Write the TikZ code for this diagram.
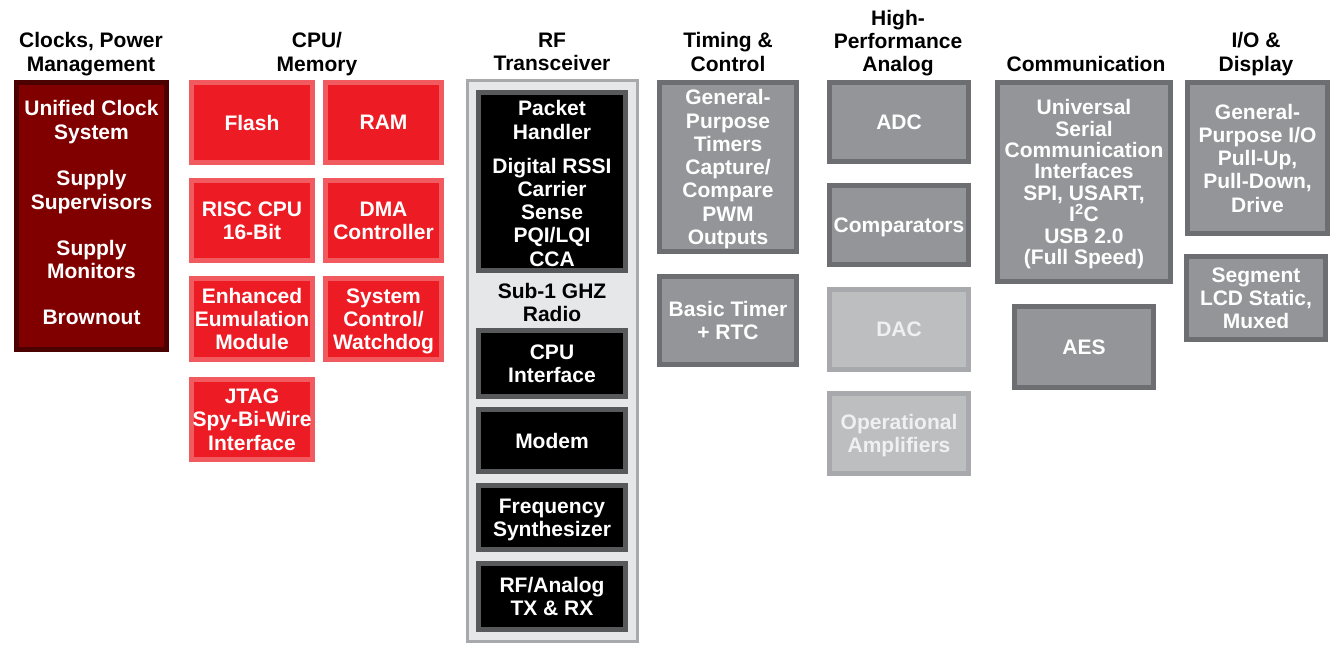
\documentclass[tikz,border=0pt]{standalone}
\usepackage{fontspec}
\setmainfont{Liberation Sans}
\usetikzlibrary{positioning}

\definecolor{clkfill}{HTML}{800000}
\definecolor{clkline}{HTML}{4D0000}
\definecolor{cpufill}{HTML}{ED1C24}
\definecolor{cpuline}{HTML}{F15A5F}
\definecolor{rffill}{HTML}{E6E7E8}
\definecolor{rfline}{HTML}{A7A9AC}
\definecolor{blkline}{HTML}{58595B}
\definecolor{perfill}{HTML}{939598}
\definecolor{perline}{HTML}{6D6E71}
\definecolor{ltfill}{HTML}{BCBEC0}
\definecolor{ltline}{HTML}{A7A9AC}

\begin{document}
\begin{tikzpicture}[
      x=1pt, y=-1pt,
      every node/.style={
          inner sep=0pt,
          outer sep=0pt,
          align=center,
          text depth=0pt,
          font=\fontsize{21}{23.3}\selectfont\bfseries
      },
      title/.style={text=black},          % column headings
      blk/.style={
          rectangle,
          line width=5pt,
          text=white
      },
      clkbox/.style={blk, draw=clkline, fill=clkfill},
      cpubox/.style={blk, draw=cpuline, fill=cpufill},
      rfbox/.style={rectangle, line width=3pt, draw=rfline, fill=rffill},
      rfblk/.style={blk, draw=blkline, fill=black},
      perbox/.style={blk, draw=perline, fill=perfill},
      ltbox/.style={blk, draw=ltline, fill=ltfill, text=white!94!black},
      lbl/.style={text=white}
  ]
      \useasboundingbox (0,0) rectangle (1339,651);

      % Column headings
      \node (tclk) [title] at (91,52) {Clocks, Power\\Management};
      \node (tcpu) [title] at (317,52) {CPU/\\Memory};
      \node (trf) [title] at (552,52) {RF\\Transceiver};
      \node (ttim) [title] at (728,52) {Timing \&\\Control};
      \node (tana) [title] at (898,41) {High-\\Performance\\Analog};
      \node (tcom) [title] at (1086,64) {Communication};
      \node (tio) [title] at (1256,52) {I/O \&\\Display};

      % Clocks, power management
      \node (clocks) [clkbox, minimum width=150pt, minimum height=267pt] at (91.5,216) {};
      \node (ucs) [lbl] at (91.5,120) {Unified Clock\\System};
      \node (svs) [lbl] at (91.5,190) {Supply\\Supervisors};
      \node (svm) [lbl] at (91.5,259.5) {Supply\\Monitors};
      \node (bor) [lbl] at (91.5,317) {Brownout};

      % CPU / memory
      \node (flash) [cpubox, minimum width=121pt, minimum height=80pt] at (252,122.5) {Flash};
      \node (ram) [cpubox, minimum width=116pt, minimum height=80pt] at (383.5,122.5) {RAM};
      \node (risc) [cpubox, minimum width=121pt, minimum height=80pt] at (252,220.5) {RISC CPU\\16-Bit};
      \node (dma) [cpubox, minimum width=116pt, minimum height=80pt] at (383.5,220.5) {DMA\\Controller};
      \node (eem) [cpubox, minimum width=121pt, minimum height=81pt] at (252,319) {Enhanced\\Eumulation\\Module};
      \node (sysctl) [cpubox, minimum width=116pt, minimum height=81pt] at (383.5,319) {System\\Control/\\Watchdog};
      \node (jtag) [cpubox, minimum width=121pt, minimum height=80pt] at (252,419.5) {JTAG\\Spy-Bi-Wire\\Interface};

      % RF transceiver
      \node (rf) [rfbox, minimum width=170pt, minimum height=561pt] at (552.5,361) {};
      \node (pkt) [rfblk, minimum width=147pt, minimum height=178pt] at (552,181.5) {};
      \node (pkth) [lbl] at (552,120) {Packet\\Handler};
      \node (rssi) [lbl] at (552,212) {Digital RSSI\\Carrier\\Sense\\PQI/LQI\\CCA};
      \node (radio) [text=black] at (552,302.5) {Sub-1 GHZ\\Radio};
      \node (cpuif) [rfblk, minimum width=147pt, minimum height=66pt] at (552,363.5) {CPU\\Interface};
      \node (modem) [rfblk, minimum width=147pt, minimum height=62pt] at (552,440.5) {Modem};
      \node (synth) [rfblk, minimum width=147pt, minimum height=64pt] at (552,517.5) {Frequency\\Synthesizer};
      \node (rfana) [rfblk, minimum width=147pt, minimum height=66pt] at (552,596.5) {RF/Analog\\TX \& RX};

      % Timing & control
      \node (timers) [perbox, minimum width=137pt, minimum height=169pt] at (728,167) {General-\\Purpose\\Timers\\Capture/\\Compare\\PWM\\Outputs};
      \node (btimer) [perbox, minimum width=137pt, minimum height=88pt] at (728,320.5) {Basic Timer\\+ RTC};

      % High-performance analog
      \node (adc) [perbox, minimum width=139pt, minimum height=79pt] at (899,122) {ADC};
      \node (comp) [perbox, minimum width=139pt, minimum height=79pt] at (899,225) {Comparators};
      \node (dac) [ltbox, minimum width=139pt, minimum height=80pt] at (899,329.5) {DAC};
      \node (opamp) [ltbox, minimum width=139pt, minimum height=80pt] at (899,433.5) {Operational\\Amplifiers};

      % Communication
      \node (usci) [perbox, minimum width=173pt, minimum height=199pt,
                    font=\fontsize{21}{21.4}\selectfont\bfseries] at (1084,182)
            {Universal\\Serial\\Communication\\Interfaces\\SPI, USART,\\I\textsuperscript{2}C\\USB 2.0\\(Full Speed)};
      \node (aes) [perbox, minimum width=139pt, minimum height=81pt] at (1084,347) {AES};

      % I/O & display
      \node (gpio) [perbox, minimum width=140pt, minimum height=151pt] at (1257.5,158) {General-\\Purpose I/O\\Pull-Up,\\Pull-Down,\\Drive};
      \node (lcd) [perbox, minimum width=139pt, minimum height=83pt] at (1256,298) {Segment\\LCD Static,\\Muxed};
  \end{tikzpicture}
\end{document}
